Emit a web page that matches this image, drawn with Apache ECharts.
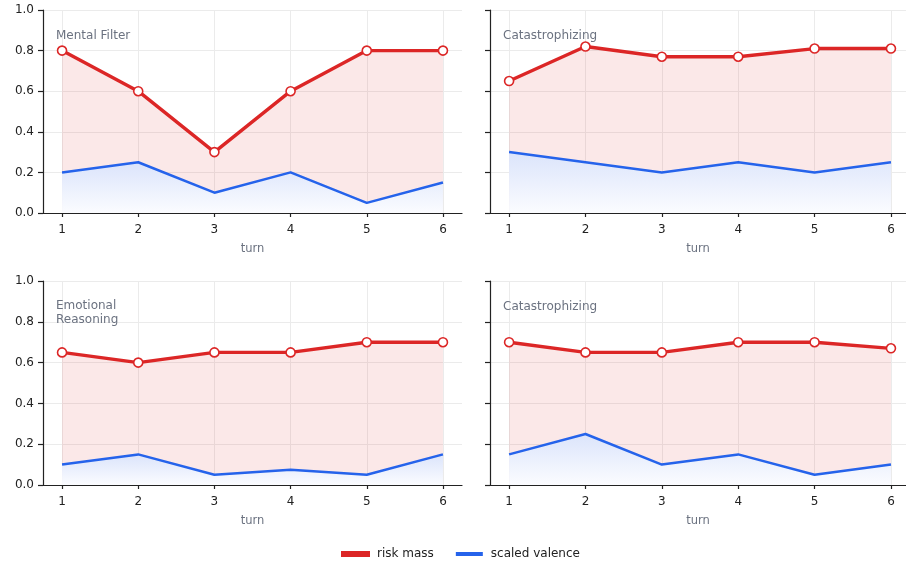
<!DOCTYPE html>
<html>
<head>
<meta charset="utf-8">
<script src="https://cdn.jsdelivr.net/npm/echarts@6/dist/echarts.min.js"></script>
<style>html,body{margin:0;padding:0;background:#fff}#c{width:906px;height:565px}</style>
</head>
<body>
<div id="c"></div>
<script>
const turns = [1, 2, 3, 4, 5, 6];
const yTicks = [0, 0.2, 0.4, 0.6, 0.8, 1.0];
const panelTitles = ['Mental Filter', 'Catastrophizing', 'Emotional\nReasoning', 'Catastrophizing'];
const riskMass1 = [0.8, 0.6, 0.3, 0.6, 0.8, 0.8];
const valence1 = [0.2, 0.25, 0.1, 0.2, 0.05, 0.15];
const riskMass2 = [0.65, 0.82, 0.77, 0.77, 0.81, 0.81];
const valence2 = [0.3, 0.25, 0.2, 0.25, 0.2, 0.25];
const riskMass3 = [0.65, 0.6, 0.65, 0.65, 0.7, 0.7];
const valence3 = [0.1, 0.15, 0.05, 0.075, 0.05, 0.15];
const riskMass4 = [0.7, 0.65, 0.65, 0.7, 0.7, 0.67];
const valence4 = [0.15, 0.25, 0.1, 0.15, 0.05, 0.1];

const riskAll = [riskMass1, riskMass2, riskMass3, riskMass4];
const valAll = [valence1, valence2, valence3, valence4];

const RED = '#dc2626', BLUE = '#2563eb';
const grids = [
  {left: 43, top: 10, width: 419, height: 203},
  {left: 490, top: 10, width: 416, height: 203},
  {left: 43, top: 281, width: 419, height: 204},
  {left: 490, top: 281, width: 416, height: 204}
];
const xMax = [6.25, 6.197, 6.25, 6.197];
const titlePos = [[56, 29], [503, 29], [56, 299], [503, 300]];
const axisLineStyle = {color: '#222', width: 1.2};
const splitStyle = {color: '#ebebeb', width: 1};
const FONT = 'DejaVu Sans';

const xAxes = grids.map((g, i) => ({
  type: 'value', gridIndex: i, min: 0.75, max: xMax[i],
  name: 'turn', nameLocation: 'middle', nameGap: 30,
  nameTextStyle: {color: '#6b7280', fontSize: 11.5, fontFamily: FONT},
  axisLine: {show: true, lineStyle: axisLineStyle},
  axisTick: {show: true, length: 4, lineStyle: axisLineStyle, customValues: turns},
  axisLabel: {color: '#222', fontSize: 12, fontFamily: FONT, margin: 11, customValues: turns},
  splitLine: {show: true, lineStyle: splitStyle}
}));
const yAxes = grids.map((g, i) => ({
  type: 'value', gridIndex: i, min: 0, max: 1, interval: 0.2,
  axisLine: {show: true, lineStyle: axisLineStyle},
  axisTick: {show: true, length: 5, lineStyle: axisLineStyle},
  axisLabel: {show: i % 2 === 0, color: '#222', fontSize: 12, fontFamily: FONT, margin: 9,
    formatter: v => v.toFixed(1)},
  splitLine: {show: true, lineStyle: splitStyle}
}));

const series = [];
for (let i = 0; i < 4; i++) {
  series.push({
    name: 'risk mass', type: 'line', xAxisIndex: i, yAxisIndex: i,
    data: turns.map((t, k) => [t, riskAll[i][k]]),
    symbol: 'circle', symbolSize: 9, showAllSymbol: true,
    lineStyle: {color: RED, width: 3.4},
    itemStyle: {color: '#fff', borderColor: RED, borderWidth: 1.6},
    areaStyle: {color: 'rgba(220,38,38,0.15)', origin: 'start'},
    z: 2, animation: false
  });
  series.push({
    name: 'scaled valence', type: 'line', xAxisIndex: i, yAxisIndex: i,
    data: turns.map((t, k) => [t, valAll[i][k]]),
    symbol: 'none',
    lineStyle: {color: BLUE, width: 2.5},
    itemStyle: {color: BLUE},
    areaStyle: {origin: 'start', opacity: 1, color: {type: 'linear', x: 0, y: 0, x2: 0, y2: 1,
      colorStops: [{offset: 0, color: '#dbe4fb'}, {offset: 1, color: '#fbfcff'}]}},
    z: 3, animation: false
  });
}

const titles = panelTitles.map((t, i) => ({
  text: t, left: titlePos[i][0], top: titlePos[i][1], padding: 0,
  textStyle: {color: '#6b7280', fontSize: 12, fontWeight: 'normal', fontFamily: FONT, lineHeight: 14}
}));

const chart = echarts.init(document.getElementById('c'), null, {renderer: 'canvas'});
chart.setOption({
  animation: false,
  backgroundColor: '#fff',
  title: titles,
  grid: grids,
  xAxis: xAxes,
  yAxis: yAxes,
  legend: {
    bottom: 0, left: 336, itemWidth: 27, itemHeight: 4, itemGap: 22,
    icon: 'rect',
    textStyle: {color: '#222', fontSize: 12, fontFamily: FONT, padding: [0, 0, 0, 3]},
    data: [{name: 'risk mass', itemStyle: {color: RED}}, {name: 'scaled valence', itemStyle: {color: BLUE}}]
  },
  series: series
});
</script>
</body>
</html>
